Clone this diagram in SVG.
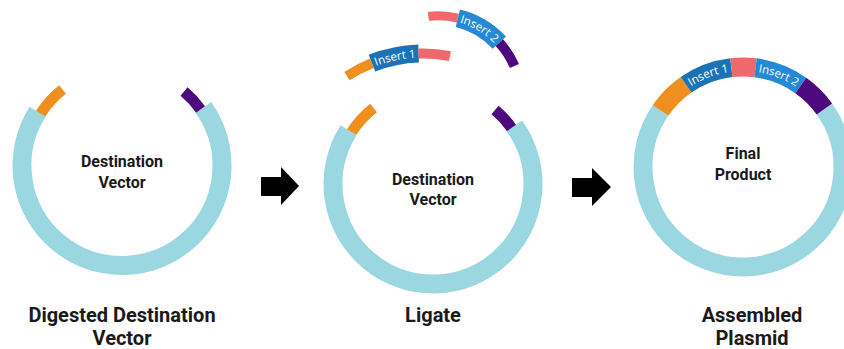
<svg xmlns="http://www.w3.org/2000/svg" width="844" height="349" viewBox="0 0 844 349">
<style>
.ring{fill:none;stroke:#9bd7e1;stroke-width:19}
.or{fill:none;stroke:#ee8f1f}
.pu{fill:none;stroke:#4d0a7f}
.rd{fill:none;stroke:#f0686c}
.i1{fill:none;stroke:#1c72b6}
.i2{fill:none;stroke:#2589d6}
.thin{stroke-width:11}
.thick{stroke-width:19}
.lbl{font-family:Roboto,"Liberation Sans",sans-serif;font-weight:700;fill:#1a1a1a;text-anchor:middle}
.big{font-size:20px}
.mid{font-size:16px}
.ins{font-family:"Open Sans","Liberation Sans",sans-serif;font-size:11.5px;fill:#ffffff;text-anchor:middle}
.arrow{fill:#000000}
</style>
<defs>
<path id="tp-f1" d="M373.41,66.97 A136,136 0 0 1 418.74,57.57"/>
<path id="tp-f2" d="M456.91,22.04 A79,79 0 0 1 496.35,45.32"/>
<path id="tp-p1" d="M688.35,88.08 A96,96 0 0 1 731.80,71.65"/>
<path id="tp-p2" d="M755.03,71.76 A96,96 0 0 1 798.48,88.65"/>
</defs>

<g id="digested-vector">
<path class="ring" d="M203.41,107.43 A100,100 0 1 1 37.66,111.77"/>
<path class="or thin" d="M40.61,113.65 A96.5,96.5 0 0 1 62.59,89.46"/>
<path class="pu thin" d="M184.03,91.58 A96.5,96.5 0 0 1 200.56,109.46"/>
<text class="lbl mid" x="122" y="167">Destination</text>
<text class="lbl mid" x="122" y="188">Vector</text>
</g>

<g id="ligate-vector">
<path class="ring" d="M514.41,125.93 A100,100 0 1 1 348.66,130.27"/>
<path class="or thin" d="M351.61,132.15 A96.5,96.5 0 0 1 373.59,107.96"/>
<path class="pu thin" d="M495.03,110.08 A96.5,96.5 0 0 1 511.56,127.96"/>
<text class="lbl mid" x="433" y="185">Destination</text>
<text class="lbl mid" x="433" y="205">Vector</text>
</g>

<g id="insert-1-fragment">
<path class="or" stroke-width="10" d="M347.00,76.08 A140,140 0 0 1 371.94,63.24"/>
<path class="i1" stroke-width="18" d="M371.94,63.24 A140,140 0 0 1 418.61,53.58"/>
<path class="rd" stroke-width="10" d="M418.61,53.58 A140,140 0 0 1 449.96,56.07"/>
<text class="ins"><textPath href="#tp-f1" startOffset="50%">Insert 1</textPath></text>
</g>

<g id="insert-2-fragment">
<path class="rd" stroke-width="9" d="M428.37,16.38 A83,83 0 0 1 457.86,18.16"/>
<path class="i2" stroke-width="18" d="M457.86,18.16 A83,83 0 0 1 499.30,42.62"/>
<path class="pu" stroke-width="10" d="M499.30,42.62 A83,83 0 0 1 514.43,65.97"/>
<text class="ins"><textPath href="#tp-f2" startOffset="50%">Insert 2</textPath></text>
</g>

<g id="final-product">
<path class="ring" d="M824.41,108.93 A100,100 0 1 1 660.49,110.50"/>
<path class="or thick" d="M660.49,110.50 A100,100 0 0 1 686.07,84.79"/>
<path class="i1 thick" d="M686.07,84.79 A100,100 0 0 1 731.33,67.68"/>
<path class="rd thick" d="M731.33,67.68 A100,100 0 0 1 755.53,67.79"/>
<path class="i2 thick" d="M755.53,67.79 A100,100 0 0 1 800.79,85.39"/>
<path class="pu thick" d="M800.79,85.39 A100,100 0 0 1 824.41,108.93"/>
<text class="ins"><textPath href="#tp-p1" startOffset="50%">Insert 1</textPath></text>
<text class="ins"><textPath href="#tp-p2" startOffset="50%">Insert 2</textPath></text>
<text class="lbl mid" x="743" y="159">Final</text>
<text class="lbl mid" x="743" y="180">Product</text>
</g>

<g id="connectors">
<polygon class="arrow" points="261,177 281,177 281,167 299,186 281,205 281,196 261,196"/>
<polygon class="arrow" points="572,178 592,178 592,168 611,187 592,206 592,197 572,197"/>
</g>

<g id="labels">
<text class="lbl big" x="122" y="322">Digested Destination</text>
<text class="lbl big" x="122" y="345">Vector</text>
<text class="lbl big" x="433" y="322">Ligate</text>
<text class="lbl big" x="752" y="322">Assembled</text>
<text class="lbl big" x="752" y="345">Plasmid</text>
</g>
</svg>
